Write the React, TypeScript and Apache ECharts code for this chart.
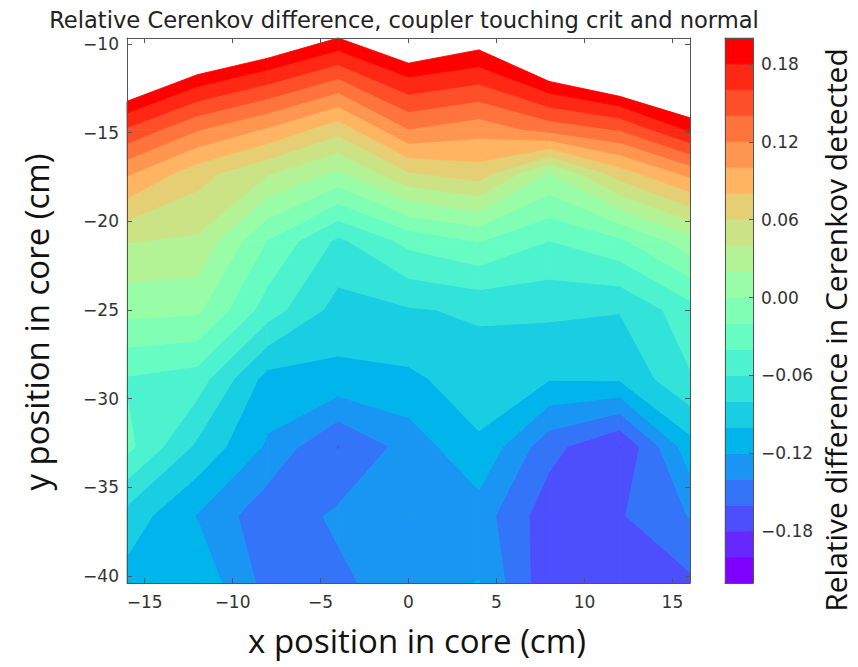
import React, { useEffect, useRef } from 'react';
import * as echarts from 'echarts';

// ---- data grid (x columns, y rows; top row follows the measured top edge) ----
const X_NODES = [-16, -12, -8, -4, 0, 4, 8, 12, 16];
const Y_ROWS = [-40.4, -36.6, -32.7, -28.9, -25.0, -21.1, -17.3, -14.8];
const TOP_EDGE_Y = [-13.23, -11.73, -10.8, -9.66, -11.08, -10.33, -12.11, -12.95, -14.16];

// relative difference values, one array per row (bottom -> top)
const Z_Y40 = [-0.108, -0.106, -0.147, -0.145, -0.127, -0.1194, -0.175, -0.172, -0.164];
const Z_Y37 = [-0.088, -0.121, -0.154, -0.136, -0.13, -0.13, -0.172, -0.162, -0.139];
const Z_Y33 = [-0.034, -0.084, -0.123, -0.161, -0.132, -0.103, -0.153, -0.1806, -0.108];
const Z_Y29 = [-0.042, -0.05, -0.108, -0.106, -0.104, -0.09, -0.099, -0.098, -0.062];
const Z_Y25 = [0.006, 0.004, -0.05, -0.088, -0.082, -0.077, -0.076, -0.079, -0.048];
const Z_Y21 = [0.041, 0.037, -0.021, -0.064, -0.034, -0.019, -0.04, -0.024, 0.012];
const Z_Y17 = [0.103, 0.068, 0.042, 0.0154, 0.058, 0.07, 0.018, 0.07, 0.106];
const Z_Y15 = [0.158, 0.122, 0.098, 0.068, 0.12, 0.108, 0.128, 0.142, 0.184];
const Z_TOP = [0.196, 0.196, 0.196, 0.198, 0.196, 0.1995, 0.197, 0.196, 0.196];
const Z_ROWS = [Z_Y40, Z_Y37, Z_Y33, Z_Y29, Z_Y25, Z_Y21, Z_Y17, Z_Y15, Z_TOP];

const LEVELS = [-0.22, -0.2, -0.18, -0.16, -0.14, -0.12, -0.1, -0.08, -0.06, -0.04, -0.02,
  0, 0.02, 0.04, 0.06, 0.08, 0.1, 0.12, 0.14, 0.16, 0.18, 0.2];
const X_TICKS = [-15, -10, -5, 0, 5, 10, 15];
const Y_TICKS = [-40, -35, -30, -25, -20, -15, -10];
const CB_TICKS = [-0.18, -0.12, -0.06, 0, 0.06, 0.12, 0.18];

const TITLE = 'Relative Cerenkov difference, coupler touching crit and normal';
const X_NAME = 'x position in core (cm)';
const Y_NAME = 'y position in core (cm)';
const CB_NAME = 'Relative difference in Cerenkov detected';

// matplotlib "rainbow" colormap
function rainbow(t: number): string {
  const cl = (v: number) => Math.max(0, Math.min(1, v));
  const r = cl(Math.abs(2 * t - 0.5));
  const g = cl(Math.sin(Math.PI * t));
  const b = cl(Math.cos((Math.PI * t) / 2));
  const h = (v: number) => Math.round(v * 255).toString(16).padStart(2, '0');
  return '#' + h(r) + h(g) + h(b);
}
const NB = LEVELS.length - 1;
const BAND_COLORS = LEVELS.slice(0, -1).map((_, i) => rainbow(i / (NB - 1)));

type P = { x: number; y: number; v: number };
function clip(poly: P[], level: number, keepAbove: boolean): P[] {
  const out: P[] = [];
  const n = poly.length;
  for (let i = 0; i < n; i++) {
    const a = poly[i];
    const b = poly[(i + 1) % n];
    const ain = keepAbove ? a.v >= level : a.v <= level;
    const bin = keepAbove ? b.v >= level : b.v <= level;
    if (ain) out.push(a);
    if (ain !== bin) {
      const t = (level - a.v) / (b.v - a.v);
      out.push({ x: a.x + t * (b.x - a.x), y: a.y + t * (b.y - a.y), v: level });
    }
  }
  return out;
}

const NR = Z_ROWS.length;
const NC = X_NODES.length;
const yAt = (r: number, c: number) => (r === NR - 1 ? TOP_EDGE_Y[c] : Y_ROWS[r]);

const cells: number[][] = [];
for (let r = 0; r < NR - 1; r++) {
  for (let c = 0; c < NC - 1; c++) cells.push([X_NODES[c], yAt(r, c), c, r]);
}

// For a saddle cell the centre value decides which diagonal pair is joined:
// the band drawn last wins the overlapping middle, so draw order is reversed
// when the centre lies below the separating level.
function drawDescending(q: P[]): boolean {
  const [A, B, C, D] = q;
  const minAC = Math.min(A.v, C.v), maxAC = Math.max(A.v, C.v);
  const minBD = Math.min(B.v, D.v), maxBD = Math.max(B.v, D.v);
  let lo = 0, hi = 0;
  if (minAC > maxBD) { lo = maxBD; hi = minAC; }
  else if (minBD > maxAC) { lo = maxAC; hi = minBD; }
  else return false;
  const sep = LEVELS.filter((L) => L > lo && L < hi);
  if (!sep.length) return false;
  const centre = (A.v + B.v + C.v + D.v) / 4;
  return centre < sep[0];
}

const minus = (s: string) => s.replace('-', '\u2212');
const FRAME = '#555';
const TICK_FONT = { color: '#333', fontSize: 17, fontFamily: 'DejaVu Sans' };

function frameAxis(extra: any) {
  return {
    type: 'value',
    z: 10,
    splitLine: { show: false },
    axisLine: { show: true, onZero: false, lineStyle: { color: FRAME, width: 1 } },
    ...extra,
  };
}

const labelStyle = (text: string, size: number) => ({
  text, fontSize: size, fontFamily: 'Open Sans', fill: '#111',
  align: 'center', verticalAlign: 'middle', textAlign: 'center', textVerticalAlign: 'middle',
});

export default function App() {
  const ref = useRef<HTMLDivElement>(null);
  useEffect(() => {
    const chart = echarts.init(ref.current!, null, { renderer: 'svg' });
    const option: any = {
      animation: false,
      backgroundColor: '#fff',
      grid: [
        { left: 127, top: 38, width: 563, height: 545, outerBoundsMode: 'none' },
        { left: 725, top: 38, width: 28, height: 545, outerBoundsMode: 'none' },
      ],
      xAxis: [
        frameAxis({
          gridIndex: 0, position: 'bottom', min: -16, max: 16,
          axisTick: { show: true, inside: true, length: 5, customValues: X_TICKS, lineStyle: { color: FRAME } },
          axisLabel: { ...TICK_FONT, margin: 10, customValues: X_TICKS, formatter: (v: number) => minus(String(v)) },
        }),
        frameAxis({
          gridIndex: 0, position: 'top', min: -16, max: 16,
          axisTick: { show: true, inside: true, length: 5, customValues: X_TICKS, lineStyle: { color: FRAME } },
          axisLabel: { show: false },
        }),
        frameAxis({ gridIndex: 1, position: 'bottom', min: 0, max: 1, axisTick: { show: false }, axisLabel: { show: false } }),
        frameAxis({ gridIndex: 1, position: 'top', min: 0, max: 1, axisTick: { show: false }, axisLabel: { show: false } }),
      ],
      yAxis: [
        frameAxis({
          gridIndex: 0, position: 'left', min: -40.4, max: -9.66,
          axisTick: { show: true, inside: true, length: 5, customValues: Y_TICKS, lineStyle: { color: FRAME } },
          axisLabel: { ...TICK_FONT, margin: 8, customValues: Y_TICKS, formatter: (v: number) => minus(String(v)) },
        }),
        frameAxis({
          gridIndex: 0, position: 'right', min: -40.4, max: -9.66,
          axisTick: { show: true, inside: true, length: 5, customValues: Y_TICKS, lineStyle: { color: FRAME } },
          axisLabel: { show: false },
        }),
        frameAxis({
          gridIndex: 1, position: 'right', min: -0.22, max: 0.2,
          axisTick: { show: true, inside: true, length: 4, customValues: CB_TICKS, lineStyle: { color: FRAME } },
          axisLabel: { ...TICK_FONT, margin: 8, customValues: CB_TICKS, formatter: (v: number) => minus(v.toFixed(2)) },
        }),
        frameAxis({ gridIndex: 1, position: 'left', min: -0.22, max: 0.2, axisTick: { show: false }, axisLabel: { show: false } }),
      ],
      series: [
        {
          type: 'custom', xAxisIndex: 0, yAxisIndex: 0, silent: true, z: 2,
          data: cells, encode: { x: 0, y: 1 },
          renderItem: (_p: any, api: any) => {
            const c = api.value(2) as number;
            const r = api.value(3) as number;
            const corners: P[] = [
              { x: X_NODES[c], y: yAt(r, c), v: Z_ROWS[r][c] },
              { x: X_NODES[c + 1], y: yAt(r, c + 1), v: Z_ROWS[r][c + 1] },
              { x: X_NODES[c + 1], y: yAt(r + 1, c + 1), v: Z_ROWS[r + 1][c + 1] },
              { x: X_NODES[c], y: yAt(r + 1, c), v: Z_ROWS[r + 1][c] },
            ];
            const order = LEVELS.slice(0, -1).map((_, i) => i);
            if (drawDescending(corners)) order.reverse();
            const children: any[] = [];
            for (const i of order) {
              let poly = clip(corners, LEVELS[i], true);
              if (poly.length < 3) continue;
              poly = clip(poly, LEVELS[i + 1], false);
              if (poly.length < 3) continue;
              const pts = poly.map((p) => api.coord([p.x, p.y]));
              children.push({
                type: 'polygon', shape: { points: pts },
                style: { fill: BAND_COLORS[i], stroke: BAND_COLORS[i], lineWidth: 0.9, lineJoin: 'round' },
              });
            }
            return { type: 'group', children };
          },
        },
        {
          type: 'custom', xAxisIndex: 2, yAxisIndex: 2, silent: true, z: 2,
          data: LEVELS.slice(0, -1).map((lo, i) => [0.5, (lo + LEVELS[i + 1]) / 2, i]),
          encode: { x: 0, y: 1 },
          renderItem: (_p: any, api: any) => {
            const i = api.value(2) as number;
            const p0 = api.coord([0, LEVELS[i + 1]]);
            const p1 = api.coord([1, LEVELS[i]]);
            return {
              type: 'rect',
              shape: { x: p0[0], y: p0[1], width: p1[0] - p0[0], height: p1[1] - p0[1] },
              style: { fill: BAND_COLORS[i], stroke: BAND_COLORS[i], lineWidth: 0.5 },
            };
          },
        },
      ],
      graphic: [
        {
          type: 'text', x: 404, y: 20,
          style: { text: TITLE, fontSize: 22.6, fontFamily: 'DejaVu Sans', fill: '#222', align: 'center', verticalAlign: 'middle', textAlign: 'center', textVerticalAlign: 'middle' },
        },
        { type: 'text', x: 417, y: 640, style: labelStyle(X_NAME, 33) },
        { type: 'text', x: 36, y: 322, rotation: Math.PI / 2, style: labelStyle(Y_NAME, 33) },
        { type: 'text', x: 835, y: 330, rotation: Math.PI / 2, style: labelStyle(CB_NAME, 30) },
      ],
    };
    chart.setOption(option);
    return () => chart.dispose();
  }, []);
  return <div ref={ref} style={{ position: 'absolute', left: 0, top: 0, width: 858, height: 667 }} />;
}
